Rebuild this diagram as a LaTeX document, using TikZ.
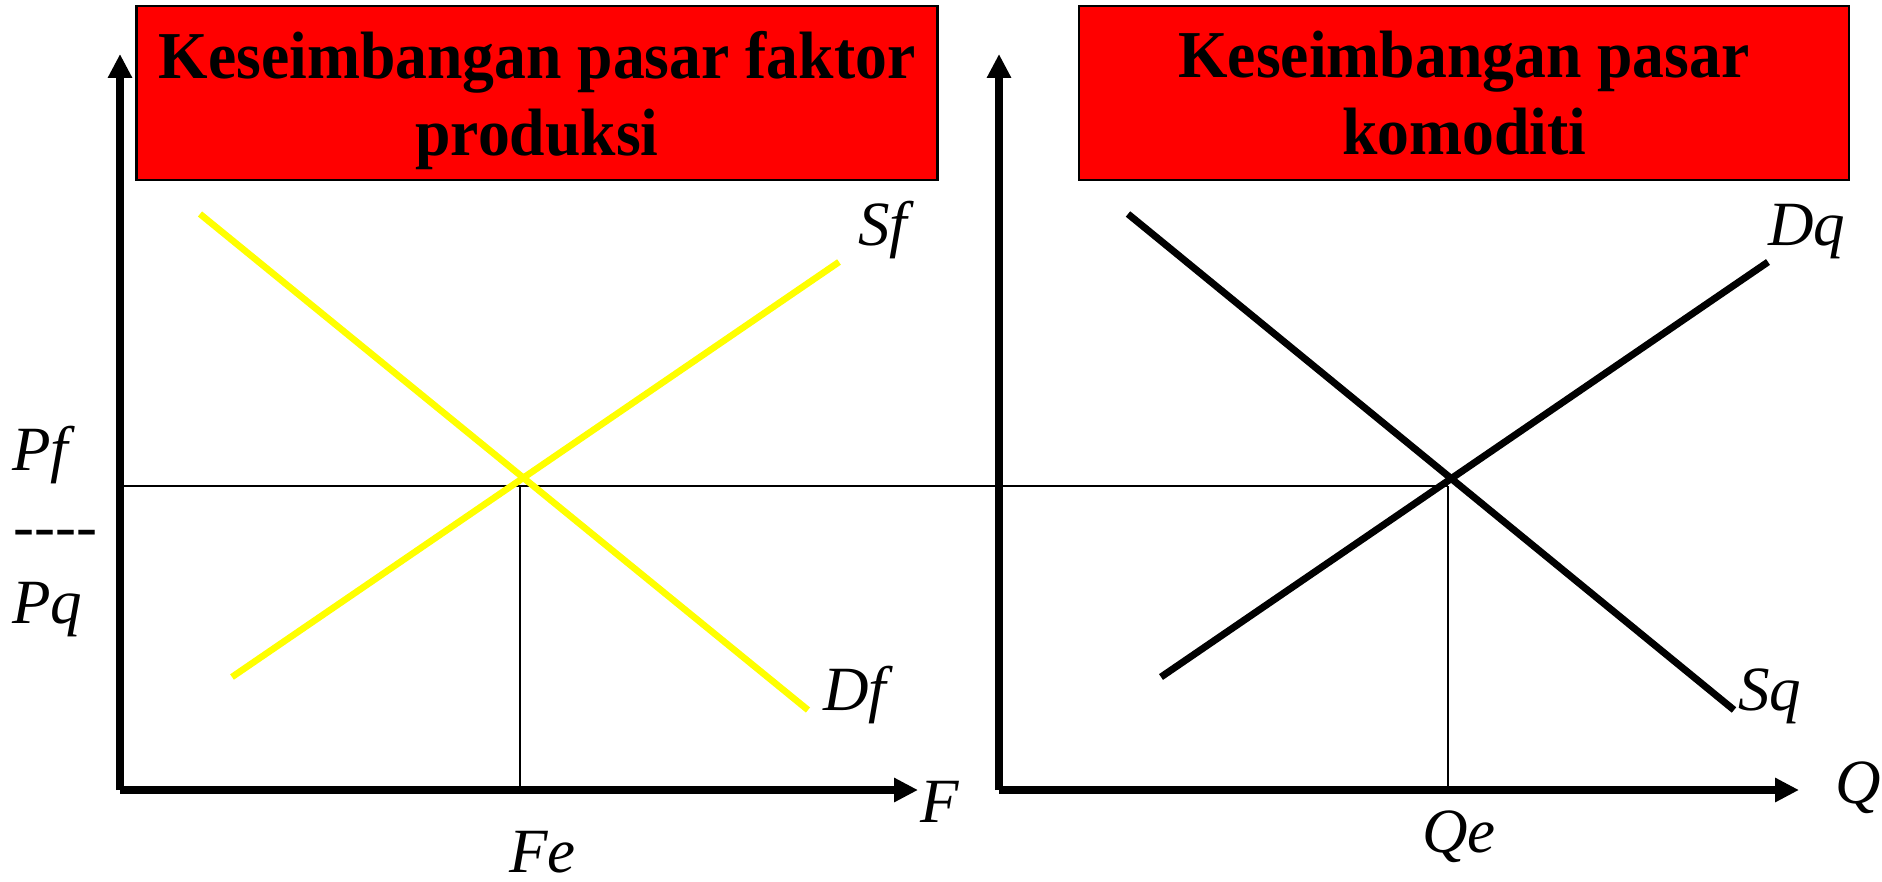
\documentclass[tikz,border=0pt]{standalone}
\usepackage{fontspec}
\setmainfont{Liberation Serif}
\newfontfamily\titlefont[FakeStretch=0.95]{Liberation Serif}
\usetikzlibrary{arrows.meta,positioning}
\definecolor{titlered}{RGB}{255,0,0}
\definecolor{curveyellow}{RGB}{255,255,0}

\begin{document}
\begin{tikzpicture}[
  x=0.5pt, y=-0.5pt,
  title/.style={rectangle, draw=black, line width=1.2pt, fill=titlered,
                align=center, inner sep=0pt, minimum height=87pt, text depth=0pt,
                font=\titlefont\bfseries\fontsize{33.5}{38.5}\selectfont},
  lbl/.style={anchor=base west, inner sep=0pt,
              font=\fontsize{31.5}{36}\selectfont\itshape},
  axis/.style={-{Triangle[length=12pt,width=11.5pt]}, line width=4pt},
  guide/.style={line width=1pt},
  fcurve/.style={curveyellow, line width=3.3pt},
  qcurve/.style={black, line width=3.5pt}
]
\useasboundingbox (0,0) rectangle (1882,882);

\node[title, minimum width=400.5pt] (titlef) at (537,93)
  {Keseimbangan pasar faktor\\produksi};
\node[title, minimum width=385pt] (titleq) at (1464,93)
  {Keseimbangan pasar\\komoditi};

\coordinate (of) at (120,790);
\coordinate (fy) at (120,54);
\coordinate (fx) at (918,790);
\coordinate (oq) at (999,790);
\coordinate (qy) at (999,54);
\coordinate (qx) at (1799,790);

\coordinate (ef) at (520,486);
\coordinate (eq) at (1448,486);

\coordinate (df0) at (200,214);
\coordinate (df1) at (808,710);
\coordinate (sf0) at (232,677);
\coordinate (sf1) at (839,262);
\coordinate (sq0) at (1128,214);
\coordinate (sq1) at (1734,710);
\coordinate (dq0) at (1161,677);
\coordinate (dq1) at (1768,262);

\draw[guide] (of |- ef) -- (eq);
\draw[guide] (ef) -- (ef |- of);
\draw[guide] (eq) -- (eq |- oq);

\draw[fcurve] (df0) -- (df1);
\draw[fcurve] (sf0) -- (sf1);
\draw[qcurve] (sq0) -- (sq1);
\draw[qcurve] (dq0) -- (dq1);

\draw[axis] (of) -- (fy);
\draw[axis] (of) -- (fx);
\draw[axis] (oq) -- (qy);
\draw[axis] (oq) -- (qx);

\node[lbl] (pf) at (12,470) {Pf};
\node[lbl] (dash) at (13,547) {-\kern0pt-\kern0pt-\kern0pt-};
\node[lbl] (pq) at (12,623) {Pq};
\node[lbl] (sf) at (858,245) {Sf};
\node[lbl] (df) at (823,710) {Df};
\node[lbl] (dq) at (1768,245) {Dq};
\node[lbl] (sq) at (1738,710) {Sq};
\node[lbl] (f) at (920,822) {F};
\node[lbl] (q) at (1835,803) {Q};
\node[lbl] (fe) at (509,872) {Fe};
\node[lbl] (qe) at (1422,852) {Qe};
\end{tikzpicture}
\end{document}
